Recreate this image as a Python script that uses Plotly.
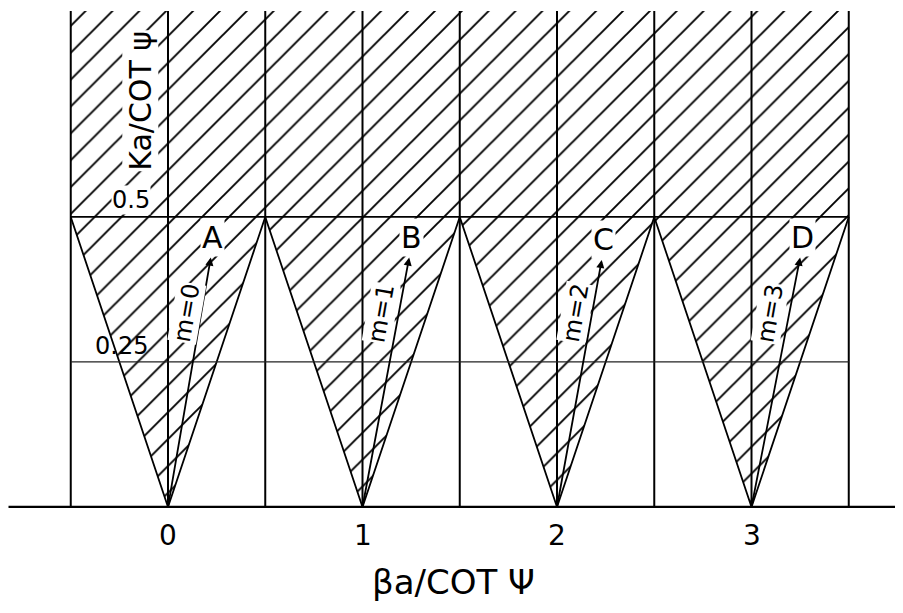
import plotly.graph_objects as go

# ---- data ----
modes = [0, 1, 2, 3]                       # space-harmonic index m (cone vertex at beta a / cot psi = m)
point_labels = ["A", "B", "C", "D"]
mode_labels = ["m=0", "m=1", "m=2", "m=3"]
tip_dx = [0.22, 0.24, 0.23, 0.25]          # arrow tip offset from vertex (x units)
tip_y = [0.43, 0.43, 0.426, 0.43]          # arrow tip height
cell_edges = [-0.5, 0.5, 1.5, 2.5, 3.5]
level_half = 0.5
level_quarter = 0.25
y_top = 0.855
x_ticks = [0, 1, 2, 3]
x_ticktext = ["0", "1", "2", "3"]

# ranges chosen so that the page (with its 8px body margin) lines up
X_RANGE = [-0.8226, 3.820]
Y_RANGE = [-0.1966, 0.8603]

fig = go.Figure()

# zig-zag of cone edges
zig_x, zig_y = [], []
for m in modes:
    zig_x += [m - 0.5, m]
    zig_y += [level_half, 0]
zig_x.append(modes[-1] + 0.5)
zig_y.append(level_half)

# hatched (fast-wave) region
hx = [cell_edges[0]] + zig_x + [cell_edges[-1], cell_edges[0]]
hy = [y_top] + zig_y + [y_top, y_top]
fig.add_trace(go.Scatter(
    x=hx, y=hy, mode="lines", fill="toself",
    line=dict(width=0, color="rgba(0,0,0,0)"),
    fillcolor="white",
    fillpattern=dict(shape="/", size=19, solidity=0.1, fgcolor="black",
                     bgcolor="white", fillmode="replace"),
    hoverinfo="skip", showlegend=False))

# cone edges
fig.add_trace(go.Scatter(x=zig_x, y=zig_y, mode="lines",
                         line=dict(color="black", width=1.8),
                         hoverinfo="skip", showlegend=False))

# vertical grid lines (cell edges and vertices)
vx, vy = [], []
verticals = sorted(set(cell_edges + modes))
for v in verticals:
    vx += [v, v, None]
    vy += [0, y_top, None]
fig.add_trace(go.Scatter(x=vx, y=vy, mode="lines",
                         line=dict(color="black", width=2),
                         hoverinfo="skip", showlegend=False))

# horizontal lines
fig.add_trace(go.Scatter(x=[cell_edges[0], cell_edges[-1]], y=[level_half, level_half],
                         mode="lines", line=dict(color="black", width=1.8),
                         hoverinfo="skip", showlegend=False))
fig.add_trace(go.Scatter(x=[cell_edges[0], cell_edges[-1]], y=[level_quarter, level_quarter],
                         mode="lines", line=dict(color="#222", width=1.2),
                         hoverinfo="skip", showlegend=False))
# baseline
fig.add_trace(go.Scatter(x=[-0.82, X_RANGE[1]], y=[0, 0], mode="lines",
                         line=dict(color="black", width=2.2),
                         hoverinfo="skip", showlegend=False))

hand = "DejaVu Sans"
ann = []
for m, lab, ml, dx, ty in zip(modes, point_labels, mode_labels, tip_dx, tip_y):
    # arrow from vertex to the operating point
    ann.append(dict(x=m + dx, y=ty, ax=m, ay=0, axref="x", ayref="y",
                    xref="x", yref="y", text="", showarrow=True,
                    arrowhead=2, arrowsize=0.9, arrowwidth=1.8, arrowcolor="black",
                    standoff=0, startstandoff=0))
    ann.append(dict(x=m + dx + 0.01, y=ty + 0.035, xref="x", yref="y", text=lab,
                    showarrow=False, font=dict(family=hand, size=30, color="black"),
                    bgcolor="white", borderpad=1))
    ann.append(dict(x=m + 0.095, y=0.335, xref="x", yref="y", text=ml,
                    showarrow=False, textangle=-80,
                    font=dict(family=hand, size=24, color="black"),
                    bgcolor="white", borderpad=0))

# level labels
ann.append(dict(x=-0.19, y=level_half + 0.03, xref="x", yref="y", text="0.5",
                showarrow=False, font=dict(family=hand, size=24, color="black"),
                bgcolor="white", borderpad=0))
ann.append(dict(x=-0.24, y=level_quarter + 0.028, xref="x", yref="y", text="0.25",
                showarrow=False, font=dict(family=hand, size=24, color="black")))

# x tick labels
for t, tt in zip(x_ticks, x_ticktext):
    ann.append(dict(x=t, y=-0.05, xref="x", yref="y", text=tt, showarrow=False,
                    font=dict(family=hand, size=28, color="black")))

# axis titles
ann.append(dict(x=1.47, y=-0.13, xref="x", yref="y", text="βa/COT Ψ",
                showarrow=False, font=dict(family=hand, size=34, color="black")))
ann.append(dict(x=-0.14, y=0.70, xref="x", yref="y", text="Ka/COT ψ",
                showarrow=False, textangle=-90,
                font=dict(family=hand, size=30, color="black"),
                bgcolor="white", borderpad=0))

fig.update_layout(
    width=903, height=613, autosize=False,
    margin=dict(l=0, r=0, t=0, b=0),
    paper_bgcolor="white", plot_bgcolor="white",
    xaxis=dict(range=X_RANGE, visible=False, fixedrange=True),
    yaxis=dict(range=Y_RANGE, visible=False, fixedrange=True),
    annotations=ann, showlegend=False)

fig.write_html("out.html")
